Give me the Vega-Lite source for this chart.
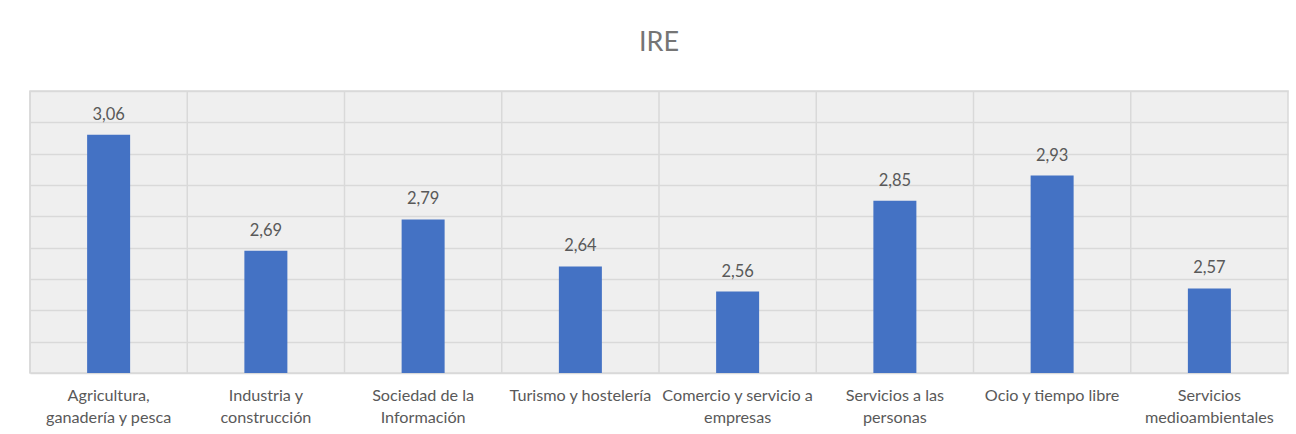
{
  "$schema": "https://vega.github.io/schema/vega-lite/v6.json",
  "width": 1258,
  "height": 282,
  "autosize": {"type": "none"},
  "padding": {"left": 30, "top": 91, "right": 8, "bottom": 61},
  "background": "white",
  "title": {"text": "IRE", "fontSize": 27, "font": "Lato", "fontWeight": "normal", "color": "#757575", "anchor": "middle", "offset": 33},
  "config": {
    "locale": {"number": {"decimal": ",", "thousands": ".", "grouping": [3], "currency": ["", " €"]}},
    "view": {"stroke": "#d9d9d9", "strokeWidth": 1.5, "fill": "#efefef"},
    "font": "Lato"
  },
  "data": {"values": [
    {"sector": "Agricultura,|ganadería y pesca", "ire": 3.06},
    {"sector": "Industria y|construcción", "ire": 2.69},
    {"sector": "Sociedad de la|Información", "ire": 2.79},
    {"sector": "Turismo y hostelería", "ire": 2.64},
    {"sector": "Comercio y servicio a|empresas", "ire": 2.56},
    {"sector": "Servicios a las|personas", "ire": 2.85},
    {"sector": "Ocio y tiempo libre", "ire": 2.93},
    {"sector": "Servicios|medioambientales", "ire": 2.57}
  ]},
  "layer": [
    {
      "mark": {"type": "bar", "color": "#4472C4", "width": 43},
      "encoding": {
        "x": {"field": "sector", "type": "nominal", "sort": null,
              "scale": {"paddingInner": 0, "paddingOuter": 0},
              "axis": {"title": null, "labelAngle": 0, "labelAlign": "center", "labelBaseline": "top", "labelExpr": "split(datum.label, '|')", "labelFont": "Lato", "labelFontSize": 16.2, "labelColor": "#595959", "labelPadding": 14, "labelLineHeight": 22, "domain": false, "ticks": false, "grid": false, "labelLimit": 250, "labelOverlap": false}},
        "y": {"field": "ire", "type": "quantitative",
              "scale": {"domain": [2.3, 3.2], "zero": false, "nice": false},
              "axis": {"title": null, "labels": false, "ticks": false, "domain": false, "grid": true, "gridColor": "#d9d9d9", "gridWidth": 1.5, "labelOverlap": false, "tickCount": 30, "values": [2.3, 2.4, 2.5, 2.6, 2.7, 2.8, 2.9, 3.0, 3.1, 3.2]}},
        "y2": {"datum": 2.3}
      }
    },
    {
      "mark": {"type": "rule", "color": "#d9d9d9", "strokeWidth": 1.5},
      "encoding": {
        "x": {"field": "sector", "type": "nominal", "sort": null, "bandPosition": 0}
      }
    },
    {
      "mark": {"type": "text", "baseline": "alphabetic", "dy": -15, "fontSize": 16.5, "font": "Lato", "color": "#595959"},
      "encoding": {
        "x": {"field": "sector", "type": "nominal", "sort": null},
        "y": {"field": "ire", "type": "quantitative"},
        "text": {"field": "ire", "type": "quantitative", "format": ".2f"}
      }
    }
  ]
}
